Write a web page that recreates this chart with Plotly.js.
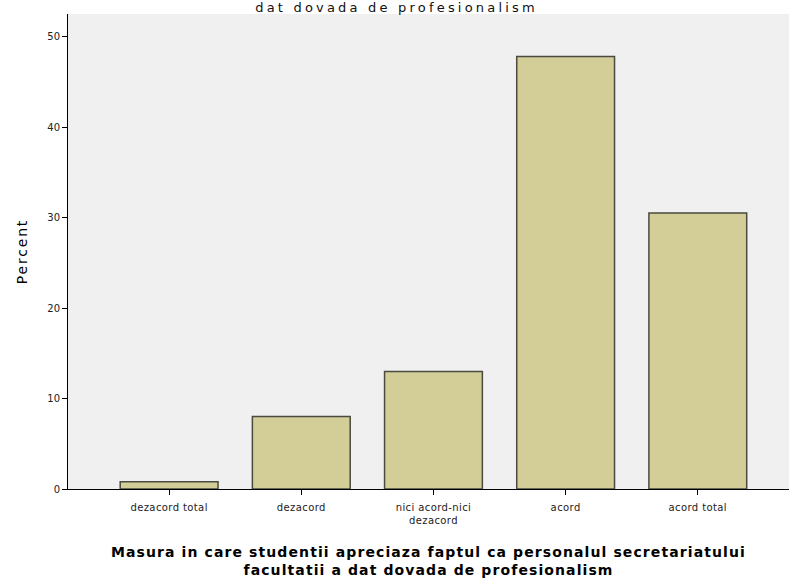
<!DOCTYPE html>
<html><head><meta charset="utf-8">
<script src="https://cdn.plot.ly/plotly-3.0.1.min.js"></script>
<style>
html,body{margin:0;padding:0;background:#fff}
#chart{width:789px;height:578px}
#chart .xtitle{letter-spacing:1.1px}
#chart .ytitle{letter-spacing:1.8px}
#chart .annotation-text{letter-spacing:3.2px}
#chart .xtick text{letter-spacing:0.4px}
</style>
</head><body><div id="chart"></div>
<script>
const categories = ["dezacord total", "dezacord", "nici acord-nici<br>dezacord", "acord", "acord total"];
const percentValues = [0.8, 8.0, 13.0, 47.8, 30.5];
const yTickValues = [0, 10, 20, 30, 40, 50];

const trace = {
  type: 'bar',
  x: categories,
  y: percentValues,
  width: 0.74,
  marker: {color: '#d3ce97', line: {color: '#4a4a40', width: 1.5}},
  hoverinfo: 'x+y'
};

const layout = {
  width: 789, height: 578,
  margin: {l: 68, r: 0, t: 14, b: 89},
  paper_bgcolor: '#ffffff',
  plot_bgcolor: '#f0f0f0',
  showlegend: false,
  font: {family: 'DejaVu Sans, Liberation Sans, Arial, sans-serif', color: '#222'},
  xaxis: {
    type: 'category',
    range: [-0.765, 4.69],
    showline: true, linecolor: '#000', linewidth: 1,
    ticks: 'outside', ticklen: 5, tickcolor: '#000',
    ticklabelstandoff: 4,
    tickfont: {size: 10, color: '#222'},
    showgrid: false, zeroline: false,
    title: {text: '<b>Masura in care studentii apreciaza faptul ca personalul secretariatului<br>facultatii a dat dovada de profesionalism</b>', font: {size: 14, color: '#000'}, standoff: 22}
  },
  yaxis: {
    range: [0, 52.5],
    tickvals: yTickValues,
    showline: true, linecolor: '#000', linewidth: 1,
    ticks: 'outside', ticklen: 5, tickcolor: '#000',
    tickfont: {size: 10, color: '#222'},
    showgrid: false, zeroline: false,
    title: {text: 'Percent', font: {size: 14, color: '#000'}, standoff: 16}
  },
  annotations: [{
    text: 'dat dovada de profesionalism',
    xref: 'paper', yref: 'paper', x: 0.456, y: 1, yshift: 16,
    xanchor: 'center', yanchor: 'top', showarrow: false,
    font: {size: 13, color: '#111'}
  }]
};

Plotly.newPlot('chart', [trace], layout, {displayModeBar: false, staticPlot: true});
</script>
</body></html>
